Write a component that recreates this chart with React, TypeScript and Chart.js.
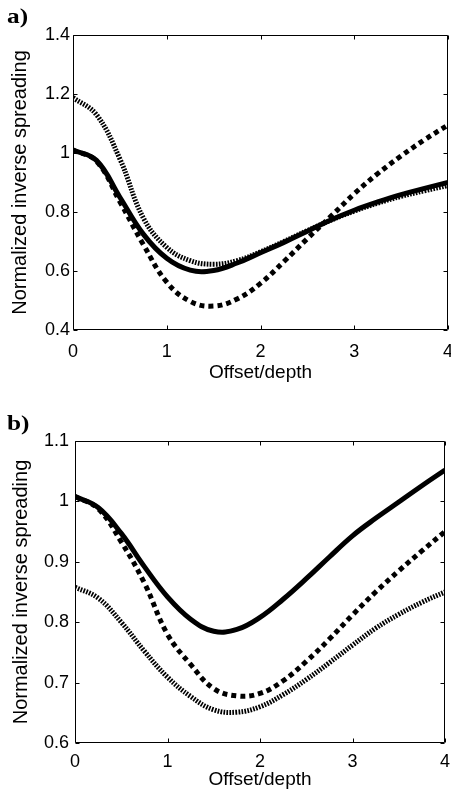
import React, { useEffect, useRef } from "react";
import { Chart, registerables } from "chart.js";

Chart.register(...registerables);

// ---------- data ----------
const offsets = [0, 0.25, 0.5, 0.75, 1, 1.25, 1.5, 1.75, 2, 2.25, 2.5, 2.75, 3, 3.25, 3.5, 3.75, 4];

const aSolid = [1.01, 0.975, 0.85, 0.725, 0.643, 0.603, 0.602, 0.627, 0.662, 0.697, 0.735, 0.773, 0.806, 0.834, 0.859, 0.880, 0.900];
const aDashed = [1.01, 0.972, 0.835, 0.69, 0.562, 0.497, 0.481, 0.505, 0.558, 0.632, 0.71, 0.785, 0.862, 0.93, 0.99, 1.045, 1.095];
const aDotted = [1.188, 1.13, 0.98, 0.78, 0.68, 0.635, 0.623, 0.635, 0.665, 0.70, 0.737, 0.772, 0.803, 0.830, 0.853, 0.872, 0.890];

const bSolid = [1.008, 0.99, 0.947, 0.892, 0.842, 0.805, 0.785, 0.788, 0.808, 0.838, 0.872, 0.908, 0.943, 0.972, 0.999, 1.026, 1.052];
const bDashed = [1.008, 0.988, 0.933, 0.865, 0.78, 0.73, 0.69, 0.678, 0.682, 0.703, 0.735, 0.772, 0.812, 0.85, 0.885, 0.918, 0.95];
const bDotted = [0.858, 0.84, 0.80, 0.752, 0.709, 0.677, 0.655, 0.651, 0.66, 0.68, 0.705, 0.733, 0.762, 0.79, 0.813, 0.833, 0.85];

const xTicks = [0, 1, 2, 3, 4];
const xTickLabels = ["0", "1", "2", "3", "4"];
const aYTicks = [0.4, 0.6, 0.8, 1, 1.2, 1.4];
const aYTickLabels = ["0.4", "0.6", "0.8", "1", "1.2", "1.4"];
const bYTicks = [0.6, 0.7, 0.8, 0.9, 1, 1.1];
const bYTickLabels = ["0.6", "0.7", "0.8", "0.9", "1", "1.1"];

const xTitle = "Offset/depth";
const yTitle = "Normalized inverse spreading";

const FONT = "'Liberation Sans', Arial, Helvetica, sans-serif";

const framePlugin = {
  id: "frame",
  afterDraw(chart: any) {
    const { ctx, chartArea, scales } = chart;
    const { left, right, top, bottom } = chartArea;
    ctx.save();
    ctx.strokeStyle = "#000";
    ctx.lineWidth = 1;
    const l = Math.round(left) + 0.5;
    const r = Math.round(right) - 0.5;
    const t = Math.round(top) + 0.5;
    const b = Math.round(bottom) - 0.5;
    ctx.beginPath();
    ctx.rect(l, t, r - l, b - t);
    const L = 4;
    scales.x.ticks.forEach((tk: any) => {
      const px = Math.round(scales.x.getPixelForValue(tk.value)) + 0.5;
      ctx.moveTo(px, b);
      ctx.lineTo(px, b - L);
      ctx.moveTo(px, t);
      ctx.lineTo(px, t + L);
    });
    scales.y.ticks.forEach((tk: any) => {
      const py = Math.round(scales.y.getPixelForValue(tk.value)) + 0.5;
      ctx.moveTo(l, py);
      ctx.lineTo(l + L, py);
      ctx.moveTo(r, py);
      ctx.lineTo(r - L, py);
    });
    ctx.stroke();
    ctx.restore();
  },
};

type PanelProps = {
  solid: number[];
  dashed: number[];
  dotted: number[];
  yTicks: number[];
  yTickLabels: string[];
  padTop: number;
  padRight: number;
  yWidth: number;
  xHeight: number;
  yTitlePad: number;
  yLabelPad: number;
  xLabelPad: number;
  xTitlePad: number;
};

function Panel(p: PanelProps) {
  const ref = useRef<HTMLCanvasElement | null>(null);
  useEffect(() => {
    if (!ref.current) return;
    const pts = (ys: number[]) => offsets.map((x, i) => ({ x, y: ys[i] }));
    const common = {
      pointRadius: 0,
      borderColor: "#000",
      backgroundColor: "#000",
      fill: false,
      tension: 0.4,
      borderCapStyle: "butt" as const,
    };
    const chart = new Chart(ref.current, {
      type: "line",
      data: {
        datasets: [
          { ...common, label: "solid", data: pts(p.solid), borderWidth: 5 },
          { ...common, label: "dashed", data: pts(p.dashed), borderWidth: 5, borderDash: [5, 4] },
          { ...common, label: "dotted", data: pts(p.dotted), borderWidth: 5, borderDash: [1.7, 1.3] },
        ],
      },
      options: {
        animation: false,
        responsive: true,
        maintainAspectRatio: false,
        devicePixelRatio: 1,
        color: "#000",
        layout: { padding: { top: p.padTop, right: p.padRight, left: 0, bottom: 0 } },
        plugins: { legend: { display: false }, tooltip: { enabled: false }, title: { display: false } },
        scales: {
          x: {
            type: "linear",
            min: 0,
            max: 4,
            grid: { display: false, drawTicks: false },
            border: { display: false },
            afterBuildTicks: (s: any) => {
              s.ticks = xTicks.map((v) => ({ value: v }));
            },
            afterFit: (s: any) => {
              s.height = p.xHeight;
              s.paddingLeft = 0;
              s.paddingRight = 0;
            },
            ticks: {
              padding: p.xLabelPad,
              color: "#000",
              font: { family: FONT, size: 18 },
              maxRotation: 0,
              autoSkip: false,
              callback: (_v: any, i: number) => xTickLabels[i],
            },
            title: {
              display: true,
              text: xTitle,
              color: "#000",
              font: { family: FONT, size: 19 },
              padding: { top: 0, bottom: p.xTitlePad },
            },
          },
          y: {
            type: "linear",
            min: p.yTicks[0],
            max: p.yTicks[p.yTicks.length - 1],
            grid: { display: false, drawTicks: false },
            border: { display: false },
            afterBuildTicks: (s: any) => {
              s.ticks = p.yTicks.map((v) => ({ value: v }));
            },
            afterFit: (s: any) => {
              s.width = p.yWidth;
              s.paddingTop = 0;
              s.paddingBottom = 0;
            },
            ticks: {
              padding: p.yLabelPad,
              color: "#000",
              font: { family: FONT, size: 18 },
              autoSkip: false,
              callback: (_v: any, i: number) => p.yTickLabels[i],
            },
            title: {
              display: true,
              text: yTitle,
              color: "#000",
              font: { family: FONT, size: 20 },
              padding: { top: p.yTitlePad, bottom: 0 },
            },
          },
        },
      },
      plugins: [framePlugin],
    });
    return () => chart.destroy();
  }, []);
  return (
    <div style={{ position: "relative", width: 451, height: 400 }}>
      <canvas ref={ref} />
    </div>
  );
}

const panelLabel: React.CSSProperties = {
  position: "absolute",
  left: 7,
  fontFamily: "'Liberation Serif', 'Times New Roman', serif",
  fontWeight: "bold",
  fontSize: 22,
  lineHeight: "22px",
  transform: "scaleX(1.15)",
  transformOrigin: "left top",
  color: "#000",
};

export default function App() {
  return (
    <div style={{ position: "absolute", left: 0, top: 0, width: 451, height: 800, background: "#fff" }}>
      <Panel
        solid={aSolid}
        dashed={aDashed}
        dotted={aDotted}
        yTicks={aYTicks}
        yTickLabels={aYTickLabels}
        padTop={35}
        padRight={3}
        yWidth={73}
        xHeight={70}
        yTitlePad={8}
        yLabelPad={3}
        xLabelPad={11}
        xTitlePad={15.6}
      />
      <Panel
        solid={bSolid}
        dashed={bDashed}
        dotted={bDotted}
        yTicks={bYTicks}
        yTickLabels={bYTickLabels}
        padTop={41}
        padRight={6}
        yWidth={75}
        xHeight={57}
        yTitlePad={9}
        yLabelPad={6}
        xLabelPad={8}
        xTitlePad={8.6}
      />
      <div style={{ ...panelLabel, top: 5 }}>a)</div>
      <div style={{ ...panelLabel, top: 412 }}>b)</div>
    </div>
  );
}
